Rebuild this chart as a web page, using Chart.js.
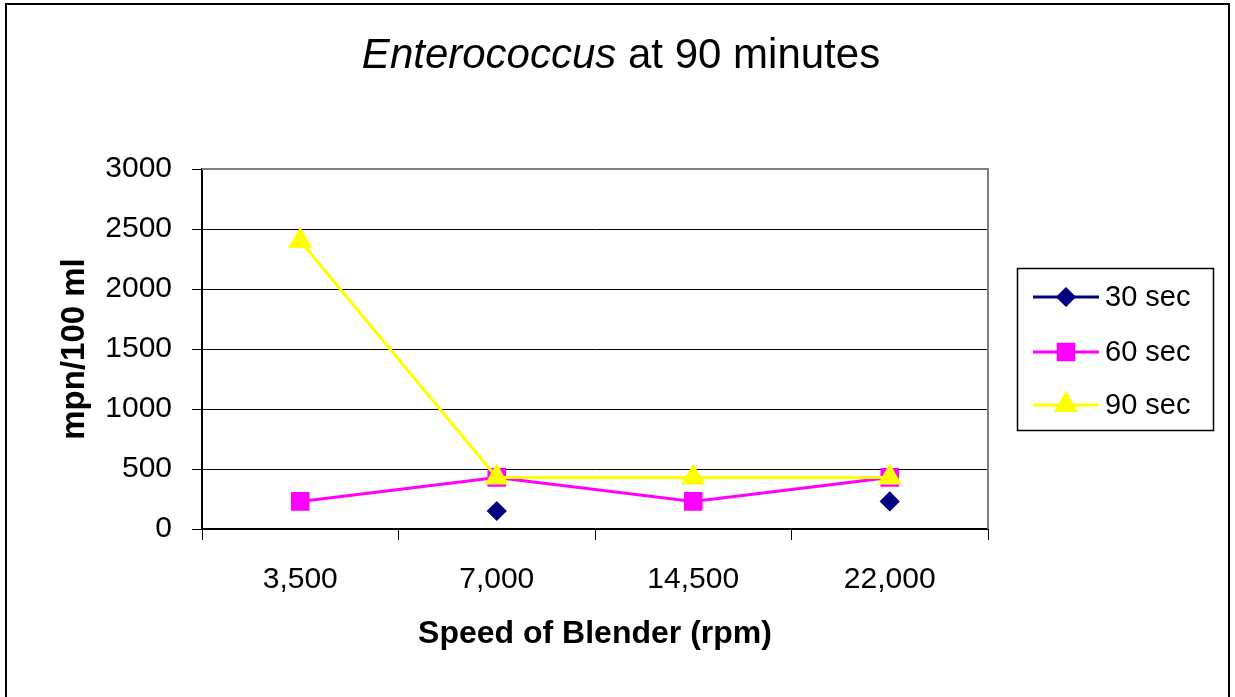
<!DOCTYPE html>
<html><head><meta charset="utf-8">
<script src="https://cdn.jsdelivr.net/npm/chart.js@4/dist/chart.umd.min.js"></script>
<style>html,body{margin:0;padding:0;background:#fff}canvas{display:block}</style>
</head><body>
<canvas id="c" width="1235" height="697"></canvas>
<script>
// ---- data ----
const categories = ['3,500', '7,000', '14,500', '22,000'];
const sec30 = [null, 150, null, 230];
const sec60 = [230, 430, 230, 430];
const sec90 = [2400, 430, 430, 430];
const seriesLabels = ['30 sec', '60 sec', '90 sec'];
const yMin = 0, yMax = 3000, yStep = 500;
const titleItalic = 'Enterococcus';
const titleRest = ' at 90 minutes';
const xTitle = 'Speed of Blender (rpm)';
const yTitle = 'mpn/100 ml';

const FONT = "'Liberation Sans', Arial, sans-serif";

const frame = {
  id: 'frame',
  beforeDraw(chart) {
    const ctx = chart.ctx;
    ctx.save();
    ctx.fillStyle = '#fff';
    ctx.fillRect(0, 0, chart.width, chart.height);
    ctx.strokeStyle = '#000';
    ctx.lineWidth = 2;
    ctx.strokeRect(6, 4, 1223, 720);
    // title
    ctx.fillStyle = '#000';
    ctx.textBaseline = 'alphabetic';
    ctx.font = 'italic 42px ' + FONT;
    const w1 = ctx.measureText(titleItalic).width;
    ctx.font = '42px ' + FONT;
    const w2 = ctx.measureText(titleRest).width;
    const x0 = 621 - (w1 + w2) / 2;
    ctx.font = 'italic 42px ' + FONT;
    ctx.fillText(titleItalic, x0, 68);
    ctx.font = '42px ' + FONT;
    ctx.fillText(titleRest, x0 + w1, 68);
    ctx.restore();
  },
  beforeDatasetsDraw(chart) {
    const {ctx, chartArea: a} = chart;
    ctx.save();
    ctx.strokeStyle = '#808080';
    ctx.lineWidth = 2;
    ctx.beginPath();
    ctx.moveTo(a.left, a.top);
    ctx.lineTo(a.right, a.top);
    ctx.lineTo(a.right, a.bottom);
    ctx.stroke();
    ctx.restore();
  },
  afterDraw(chart) {
    const ctx = chart.ctx;
    ctx.save();
    ctx.strokeStyle = '#000';
    ctx.lineWidth = 1.5;
    ctx.strokeRect(1017.5, 268.5, 196, 162);
    const ys = [297, 352, 405];
    chart.data.datasets.forEach((ds, i) => {
      const y = ys[i];
      ctx.strokeStyle = ds.borderColor;
      ctx.lineWidth = 3;
      ctx.beginPath();
      ctx.moveTo(1033, y);
      ctx.lineTo(1099, y);
      ctx.stroke();
      ctx.fillStyle = ds.pointBackgroundColor;
      ctx.strokeStyle = ds.pointBorderColor;
      Chart.helpers.drawPoint(ctx, {pointStyle: ds.pointStyle, radius: ds.pointRadius, rotation: 0, borderWidth: 1}, 1066, y);
      ctx.fillStyle = '#000';
      ctx.font = '29px ' + FONT;
      ctx.textBaseline = 'middle';
      ctx.fillText(ds.label, 1105, y + 1);
    });
    ctx.restore();
  }
};

new Chart(document.getElementById('c'), {
  type: 'line',
  data: {
    labels: categories,
    datasets: [
      {label: seriesLabels[0], data: sec30, order: 2, borderColor: '#000080', backgroundColor: '#000080',
       pointBackgroundColor: '#000080', pointBorderColor: '#000080', pointStyle: 'rectRot', pointRadius: 8, borderWidth: 3, spanGaps: false},
      {label: seriesLabels[1], data: sec60, order: 1, borderColor: '#FF00FF', backgroundColor: '#FF00FF',
       pointBackgroundColor: '#FF00FF', pointBorderColor: '#FF00FF', pointStyle: 'rect', pointRadius: 11, borderWidth: 3},
      {label: seriesLabels[2], data: sec90, order: 0, borderColor: '#FFFF00', backgroundColor: '#FFFF00',
       pointBackgroundColor: '#FFFF00', pointBorderColor: '#FFFF00', pointStyle: 'triangle', pointRadius: 11, borderWidth: 3}
    ]
  },
  options: {
    responsive: false,
    devicePixelRatio: 1,
    animation: false,
    layout: {padding: {left: 0, top: 169, right: 247, bottom: 0}},
    plugins: {legend: {display: false}, title: {display: false}, tooltip: {enabled: false}},
    elements: {line: {tension: 0}, point: {hoverRadius: 8}},
    scales: {
      x: {
        type: 'category',
        offset: true,
        grid: {offset: true, drawOnChartArea: false, drawTicks: true, tickLength: 11, color: '#000', lineWidth: 1},
        border: {color: '#000', width: 2},
        ticks: {color: '#000', font: {family: FONT, size: 30}, padding: 22, maxRotation: 0},
        title: {display: true, text: xTitle, color: '#000', font: {family: FONT, size: 32, weight: 'bold'}, padding: {top: 0, bottom: 44}},
        afterFit(s) { s.height = 168; }
      },
      y: {
        min: yMin, max: yMax,
        ticks: {stepSize: yStep, color: '#000', font: {family: FONT, size: 30}, padding: 20, callback: v => String(v)},
        grid: {color: '#000', lineWidth: 1, tickLength: 10, drawTicks: true},
        border: {color: '#000', width: 2},
        title: {display: true, text: yTitle, color: '#000', font: {family: FONT, size: 33, weight: 'bold'}, padding: {top: 55, bottom: 0}},
        afterFit(s) { s.width = 202; }
      }
    }
  },
  plugins: [frame]
});
</script>
</body></html>
